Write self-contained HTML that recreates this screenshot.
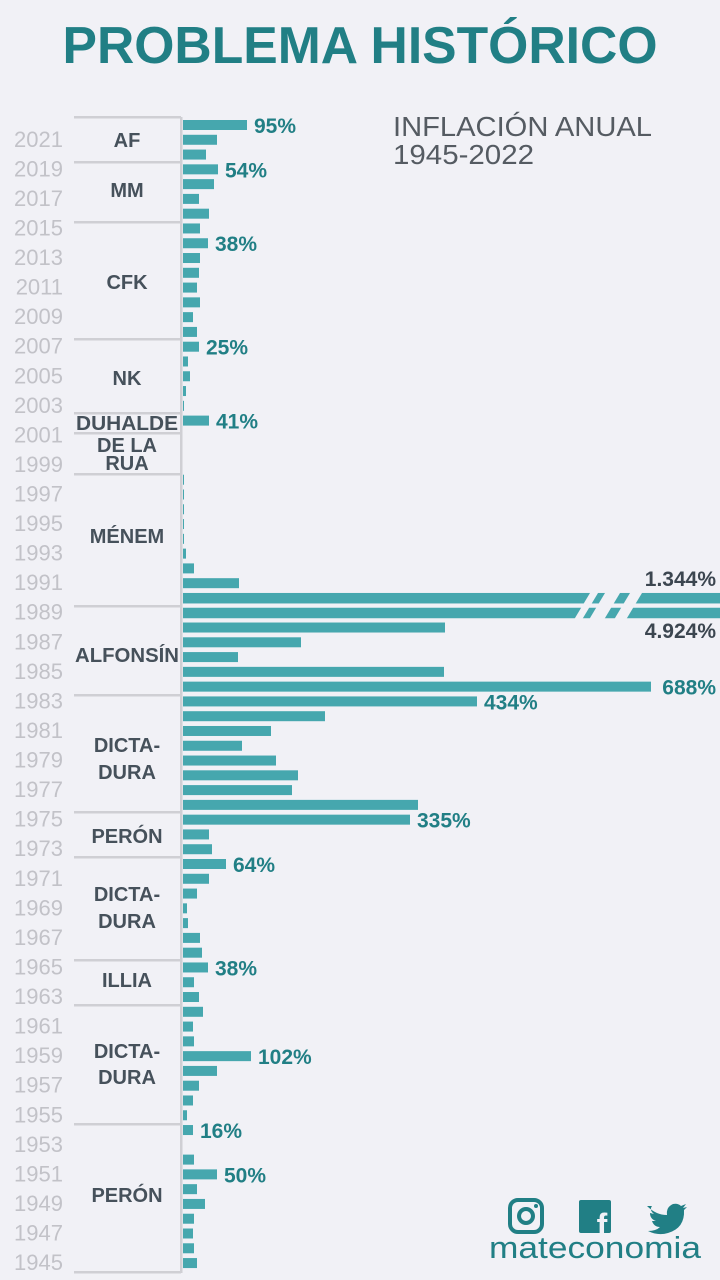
<!DOCTYPE html>
<html><head><meta charset="utf-8"><style>
html,body{margin:0;padding:0;background:#f1f1f6;}
svg{display:block;}
</style></head><body>
<svg width="720" height="1280" viewBox="0 0 720 1280" xmlns="http://www.w3.org/2000/svg">
<rect width="720" height="1280" fill="#f1f1f6"/>
<text x="360" y="63" text-anchor="middle" font-family="Liberation Sans, sans-serif" font-weight="bold" font-size="52" fill="#217f85" textLength="595" lengthAdjust="spacingAndGlyphs">PROBLEMA HISTÓRICO</text>
<text x="393" y="136" font-family="Liberation Sans, sans-serif" font-size="28" fill="#555b62" textLength="259" lengthAdjust="spacingAndGlyphs">INFLACIÓN ANUAL</text>
<text x="393" y="164" font-family="Liberation Sans, sans-serif" font-size="28" fill="#555b62" textLength="141" lengthAdjust="spacingAndGlyphs">1945-2022</text>
<g id="chart"></g>
<g fill="#217f85">
<rect x="510" y="1200" width="32" height="32" rx="8" fill="none" stroke="#217f85" stroke-width="4"/>
<circle cx="526" cy="1216" r="7" fill="none" stroke="#217f85" stroke-width="4"/>
<circle cx="536" cy="1206" r="2"/>
<rect x="579" y="1200" width="32" height="33" rx="2"/>
<text x="602" y="1236" text-anchor="middle" font-family="Liberation Sans, sans-serif" font-weight="bold" font-size="32" fill="#f1f1f6">f</text>
<path d="M647 1206 q9 9 20 9 q-1-8 6-11 q5-1 8 2 l5-2 -3 4 4-1 -3 3 q1 18-16 23 q-10 3-20-2 q8 0 12-4 q-6 0-8-6 l4 0 q-6-2-6-8 l4 1 q-5-4-2-8z"/>
</g>
<text x="489" y="1258" font-family="Liberation Sans, sans-serif" font-size="31" fill="#217f85" textLength="212" lengthAdjust="spacingAndGlyphs">mateconomia</text>
<script>
(function(){
var W={2022:64,2021:34,2020:23,2019:35,2018:31,2017:16,2016:26,2015:17,2014:25,2013:17,2012:16,2011:14,2010:17,2009:10,2008:14,2007:16,2006:5,2005:7,2004:3,2003:1,2002:26,2001:0,2000:0,1999:0,1998:1,1997:1,1996:1,1995:1,1994:1,1993:3,1992:11,1991:56,1990:537,1989:537,1988:262,1987:118,1986:55,1985:261,1984:468,1983:294,1982:142,1981:88,1980:59,1979:93,1978:115,1977:109,1976:235,1975:227,1974:26,1973:29,1972:43,1971:26,1970:14,1969:4,1968:5,1967:17,1966:19,1965:25,1964:11,1963:16,1962:20,1961:10,1960:11,1959:68,1958:34,1957:16,1956:10,1955:4,1954:10,1953:0,1952:11,1951:34,1950:14,1949:22,1948:11,1947:10,1946:11,1945:14};
var NS="http://www.w3.org/2000/svg",g=document.getElementById('chart');
function el(t,a,txt){var e=document.createElementNS(NS,t);for(var k in a)e.setAttribute(k,a[k]);if(txt)e.textContent=txt;g.appendChild(e);return e;}
function top(y){return 120+(2022-y)*14.78;}
el('rect',{x:180,y:117,width:2.5,height:1156,fill:'#cfcfd4'});
[117,162,222,339,413,433,474,606,695,812,857,960,1005,1124,1272].forEach(function(y){el('rect',{x:74,y:y-1,width:107,height:2.5,fill:'#cfcfd4'});});
for(var y=2022;y>=1945;y--){var w=W[y];if(w>0){var h=(y==1989||y==1990)?10.5:10;el('rect',{x:183,y:top(y),width:w,height:h,fill:'#46a7ae'});}}
for(var y=2021;y>=1945;y-=2){el('text',{x:63,y:top(y)+12,'text-anchor':'end','font-family':'Liberation Sans, sans-serif','font-size':22,fill:'#c2c2c8'},String(y));}
var bg='#f1f1f6';[[587,595],[602,617],[627,639]].forEach(function(p){var a=p[0],b=p[1],k=0.6;el('polygon',{points:(a+ (598-590)*k)+',590 '+(b+(598-590)*k)+',590 '+(b-(620-598)*k)+',620 '+(a-(620-598)*k)+',620',fill:bg});});
var L=[[2022,'95%'],[2019,'54%'],[2014,'38%'],[2007,'25%'],[2002,'41%'],[1983,'434%'],[1975,'335%'],[1972,'64%'],[1965,'38%'],[1959,'102%'],[1954,'16%'],[1951,'50%']];
L.forEach(function(l){el('text',{x:183+W[l[0]]+7,y:top(l[0])+13,'font-family':'Liberation Sans, sans-serif','font-weight':'bold','font-size':21,fill:'#217f85'},l[1]);});
el('text',{x:716,y:top(1984)+13,'text-anchor':'end','font-family':'Liberation Sans, sans-serif','font-weight':'bold','font-size':21,fill:'#217f85'},'688%');
el('text',{x:716,y:586,'text-anchor':'end','font-family':'Liberation Sans, sans-serif','font-weight':'bold','font-size':21,fill:'#3c4650'},'1.344%');
el('text',{x:716,y:638,'text-anchor':'end','font-family':'Liberation Sans, sans-serif','font-weight':'bold','font-size':21,fill:'#3c4650'},'4.924%');
var G=[['AF',140],['MM',190],['CFK',282],['NK',378],['DUHALDE',423,102],['DE LA',445,60],['RUA',463],['MÉNEM',536],['ALFONSÍN',655,104],['DICTA-',745],['DURA',772],['PERÓN',836],['DICTA-',894],['DURA',921],['ILLIA',980],['DICTA-',1051],['DURA',1077],['PERÓN',1195]];
G.forEach(function(s){var a={x:127,y:s[1]+7,'text-anchor':'middle','font-family':'Liberation Sans, sans-serif','font-weight':'bold','font-size':20,fill:'#46515b'};if(s[2]){a.textLength=s[2];a.lengthAdjust='spacingAndGlyphs';}el('text',a,s[0]);});
})();
</script>
</svg>
</body></html>
